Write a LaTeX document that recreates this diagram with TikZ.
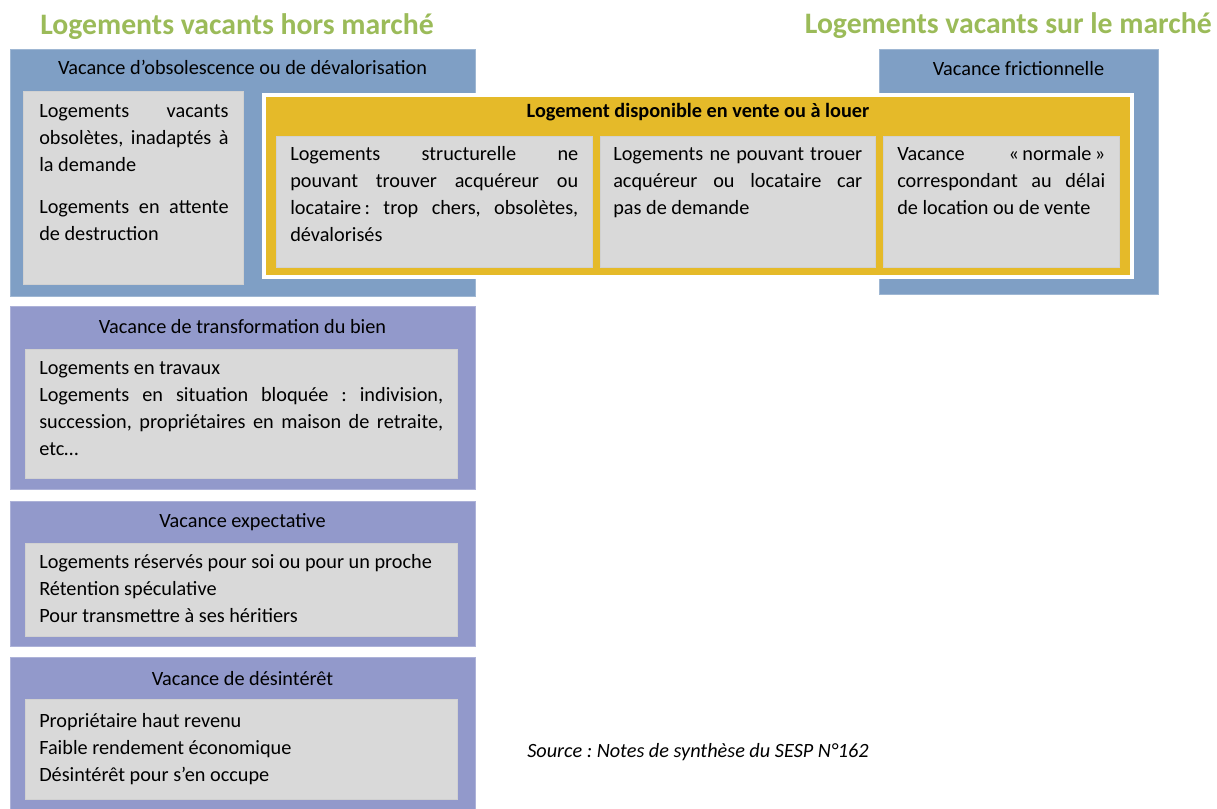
\documentclass[tikz,border=0pt]{standalone}
\usepackage{fontspec}
\setmainfont{Carlito}
\usepackage{tikz}
\usetikzlibrary{positioning,fit}
\usepackage{xcolor}
\definecolor{vgreen}{HTML}{9BBB59}
\definecolor{vblue}{HTML}{7F9FC5}
\definecolor{vpurple}{HTML}{9299CB}
\definecolor{vyellow}{HTML}{E5BA29}
\definecolor{vgray}{HTML}{D9D9D9}
\frenchspacing

\begin{document}
\begin{tikzpicture}[%
    x=0.75pt,y=-0.75pt,font=\fontsize{15.2}{20.25}\selectfont,
    bluebox/.style={inner sep=0pt,fill=vblue,draw=vblue!75!white,line width=0.75pt},
    purplebox/.style={inner sep=0pt,fill=vpurple,draw=vpurple!75!white,line width=0.75pt},
    dispobox/.style={inner sep=0pt,fill=vyellow,draw=white,line width=2.5pt},
    cell/.style={inner sep=0pt,fill=vgray,draw=black!18,line width=0.75pt},
    head/.style={anchor=base,inner sep=0pt},
    celltext/.style={anchor=base west,inner sep=0pt,align=justify},
    maintitle/.style={%
      anchor=base west,inner sep=0pt,text=vgreen,
      font=\fontsize{22.3}{26}\selectfont\bfseries}
  ]
    \useasboundingbox (0,0) rectangle (1217,808);

    \node[maintitle] (hors)                  at (40,34)   {Logements vacants hors marché};
    \node[maintitle, anchor=base east] (sur) at (1212,33) {Logements vacants sur le marché};

    \node[bluebox, fit={(10,49) (475,296)}]    (obso)  {};
    \node[bluebox, fit={(879,49) (1158,294)}]  (fric)  {};
    \node[dispobox, fit={(264,95) (1132,277)}] (dispo) {};
    \node[cell, fit={(23,91) (243,284)}]       (obsocell) {};
    \node[cell, fit={(276,136) (592,267)}]     (strucell) {};
    \node[cell, fit={(600,136) (875,267)}]     (demcell)  {};
    \node[cell, fit={(883,136) (1119,267)}]    (normcell) {};

    \node[head] (obsohead) at (obso.north |- 0,74) {Vacance d’obsolescence ou de dévalorisation};
    \node[head] (frichead) at (fric.north |- 0,75) {Vacance frictionnelle};
    \node[head, font=\fontsize{15.2}{20.25}\selectfont\bfseries] (dispohead)
      at (dispo.north |- 0,117) {Logement disponible en vente ou à louer};

    \node[celltext, text width=142pt] (obsotxt) at (39,117)
      {Logements vacants\linebreak obsolètes, inadaptés à\linebreak la demande\par
       \vspace{11.25pt}Logements en attente\linebreak de destruction};
    \node[celltext, text width=216pt] (strutxt) at (290,160)
      {Logements structurelle ne\linebreak pouvant trouver acquéreur ou\linebreak
       locataire\,: trop chers, obsolètes,\linebreak dévalorisés};
    \node[celltext, text width=186.75pt] (demtxt) at (613,160)
      {Logements ne pouvant trouer\linebreak acquéreur ou locataire car\linebreak pas de demande};
    \node[celltext, text width=156pt] (normtxt) at (897,160)
      {Vacance «\,normale\,»\linebreak correspondant au délai\linebreak de location ou de vente};

    \node[purplebox, fit={(10,306) (475,489)}] (transfo)     {};
    \node[cell, fit={(25,349) (457,478)}]      (transfocell) {};
    \node[purplebox, fit={(10,501) (475,646)}] (expect)      {};
    \node[cell, fit={(25,543) (457,636)}]      (expectcell)  {};
    \node[purplebox, fit={(10,657) (475,810)}] (desint)      {};
    \node[cell, fit={(25,699) (457,799)}]      (desintcell)  {};

    \node[head] (transfohead) at (transfo.north |- 0,333) {Vacance de transformation du bien};
    \node[head] (expecthead)  at (expect.north |- 0,527)  {Vacance expectative};
    \node[head] (desinthead)  at (desint.north |- 0,685)  {Vacance de désintérêt};

    \node[celltext, text width=303pt] (transfotxt) at (39,374)
      {Logements en travaux\par Logements en situation bloquée : indivision,\linebreak
       succession, propriétaires en maison de retraite,\linebreak etc…};
    \node[celltext, text width=303pt] (expecttxt) at (39,568)
      {Logements réservés pour soi ou pour un proche\par Rétention spéculative\par
       Pour transmettre à ses héritiers};
    \node[celltext, text width=303pt] (desinttxt) at (39,727)
      {Propriétaire haut revenu\par Faible rendement économique\par Désintérêt pour s’en occupe};

    \node[anchor=base west, inner sep=0pt, font=\fontsize{15.2}{20.25}\selectfont\itshape]
      (source) at (527,757) {Source : Notes de synthèse du SESP N°162};
  \end{tikzpicture}
\end{document}
